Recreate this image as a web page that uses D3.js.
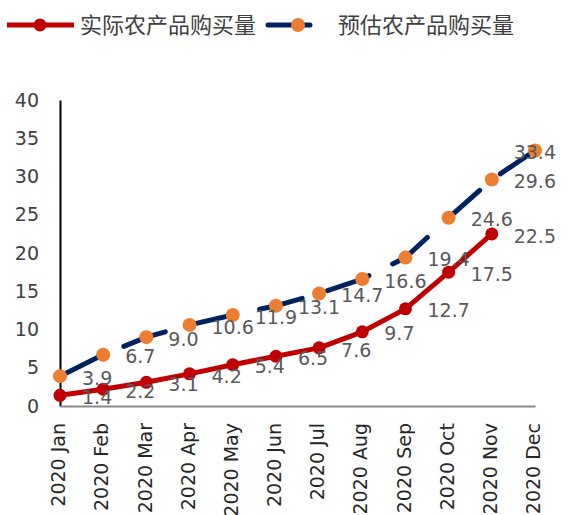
<!DOCTYPE html>
<html>
<head>
<meta charset="utf-8">
<script src="https://cdn.jsdelivr.net/npm/d3@7"></script>
<style>
  body { margin: 0; background: #fff; }
  svg { display: block; }
</style>
</head>
<body>
<svg id="chart" width="571" height="515"></svg>
<script>
const months = ["2020 Jan","2020 Feb","2020 Mar","2020 Apr","2020 May","2020 Jun","2020 Jul","2020 Aug","2020 Sep","2020 Oct","2020 Nov","2020 Dec"];
const actual = [1.4, 2.2, 3.1, 4.2, 5.4, 6.5, 7.6, 9.7, 12.7, 17.5, 22.5];
const forecast = [3.9, 6.7, 9.0, 10.6, 11.9, 13.1, 14.7, 16.6, 19.4, 24.6, 29.6, 33.4];
const yTicks = [0, 5, 10, 15, 20, 25, 30, 35, 40];
const seriesNames = ["实际农产品购买量", "预估农产品购买量"];

const RED = "#C00000", NAVY = "#002060", ORANGE = "#ED7D31";
const svg = d3.select("#chart");

const x = d3.scalePoint().domain(months).range([60, 535]).padding(0);
const y = d3.scaleLinear().domain([0, 40]).range([406, 100]);

// Y axis
const yAxis = svg.append("g").attr("transform", "translate(60,0)")
  .call(d3.axisLeft(y).tickValues(yTicks).tickSize(0).tickPadding(21).tickFormat(d3.format("d")));
yAxis.select(".domain").attr("stroke", "#000").attr("stroke-width", 2);
yAxis.selectAll("text").attr("font-family", "DejaVu Sans").attr("font-size", 19).attr("fill", "#404040");

// X axis
const xAxis = svg.append("g").attr("transform", "translate(0,406)")
  .call(d3.axisBottom(x).tickSize(0));
xAxis.select(".domain").attr("stroke", "#898989").attr("stroke-width", 2);
xAxis.selectAll("text")
  .attr("font-family", "DejaVu Sans").attr("font-size", 19).attr("fill", "#262626")
  .attr("transform", "rotate(-90)")
  .attr("text-anchor", "end")
  .attr("x", -17).attr("y", -2).attr("dy", "0.35em");

// Lines
const lineA = d3.line().x((d, i) => x(months[i])).y(d => y(d));
svg.append("path").datum(actual).attr("d", lineA)
  .attr("fill", "none").attr("stroke", RED).attr("stroke-width", 5).attr("stroke-linejoin", "round");
svg.append("path").datum(forecast).attr("d", lineA)
  .attr("fill", "none").attr("stroke", NAVY).attr("stroke-width", 5)
  .attr("stroke-dasharray", "44,26.5").attr("stroke-dashoffset", 0).attr("stroke-linecap", "round");

// Markers
svg.append("g").selectAll("circle").data(actual).join("circle")
  .attr("cx", (d, i) => x(months[i])).attr("cy", d => y(d)).attr("r", 6.5).attr("fill", RED);
svg.append("g").selectAll("circle").data(forecast).join("circle")
  .attr("cx", (d, i) => x(months[i])).attr("cy", d => y(d)).attr("r", 7).attr("fill", ORANGE);

// Data labels
function labels(data) {
  const g = svg.append("g");
  g.selectAll("text").data(data).join("text")
    .attr("font-family", "DejaVu Sans").attr("font-size", 19).attr("fill", "#595959")
    .attr("y", d => y(d) + 2).attr("dy", "0.35em")
    .text(d => d3.format(".1f")(d))
    .each(function(d, i) {
      const w = this.getComputedTextLength();
      const left = Math.min(x(months[i]) + 22, 556 - w);
      d3.select(this).attr("x", left);
    });
}
labels(actual);
labels(forecast);

// Legend
const lg = svg.append("g");
lg.append("line").attr("x1", 7).attr("x2", 74).attr("y1", 25).attr("y2", 25)
  .attr("stroke", RED).attr("stroke-width", 5);
lg.append("circle").attr("cx", 40).attr("cy", 25).attr("r", 6.5).attr("fill", RED);
lg.append("text").attr("x", 80).attr("y", 25).attr("dy", "0.36em")
  .attr("font-family", "Noto Sans CJK SC").attr("font-size", 22).attr("fill", "#404040")
  .text(seriesNames[0]);
lg.append("line").attr("x1", 268).attr("x2", 310).attr("y1", 25).attr("y2", 25)
  .attr("stroke", NAVY).attr("stroke-width", 5).attr("stroke-linecap", "round");
lg.append("circle").attr("cx", 298).attr("cy", 25).attr("r", 7).attr("fill", ORANGE);
lg.append("text").attr("x", 338).attr("y", 25).attr("dy", "0.36em")
  .attr("font-family", "Noto Sans CJK SC").attr("font-size", 22).attr("fill", "#404040")
  .text(seriesNames[1]);
</script>
</body>
</html>
